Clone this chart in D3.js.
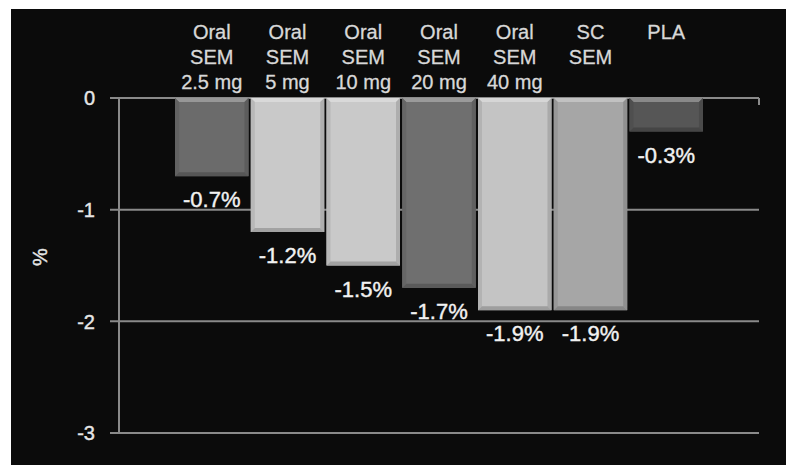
<!DOCTYPE html>
<meta charset="utf-8">
<style>
body { margin: 0; background: #fff; }
svg text { font-family: "Liberation Sans", Arial, sans-serif; }
.tick-label { font-size: 20px; fill: #e6e6e6; stroke: #e6e6e6; stroke-width: 0.4px; }
.cat-label { font-size: 20px; fill: #d8d8d8; stroke: #d8d8d8; stroke-width: 0.3px; }
.val-label { font-size: 22px; fill: #f2f2f2; stroke: #f2f2f2; stroke-width: 0.4px; }
.grid line { stroke: #8a8a8a; stroke-width: 2px; }
</style>
<body>
<svg width="786" height="465"></svg>

<script src="https://cdn.jsdelivr.net/npm/d3@7"></script>
<script>

// data
let categories = ['Oral SEM 2.5 mg', 'Oral SEM 5 mg', 'Oral SEM 10 mg', 'Oral SEM 20 mg',
                  'Oral SEM 40 mg', 'SC SEM', 'PLA'];
let labelLines = [
  ['Oral', 'SEM', '2.5 mg'],
  ['Oral', 'SEM', '5 mg'],
  ['Oral', 'SEM', '10 mg'],
  ['Oral', 'SEM', '20 mg'],
  ['Oral', 'SEM', '40 mg'],
  ['SC', 'SEM'],
  ['PLA']
];
let values = [-0.7, -1.2, -1.5, -1.7, -1.9, -1.9, -0.3];
let valueLabels = ['-0.7%', '-1.2%', '-1.5%', '-1.7%', '-1.9%', '-1.9%', '-0.3%'];
let yTicks = [0, -1, -2, -3];
let yTitle = '%';

let svg = d3.select('svg');

// black panel
svg.append('rect')
  .attr('x', 11).attr('y', 9)
  .attr('width', 775).attr('height', 456)
  .attr('fill', '#0b0b0b');

let x = d3.scaleBand()
  .domain(categories)
  .range([119, 759])
  .paddingInner(0.03)
  .paddingOuter(0.74);

let y = d3.scaleLinear()
  .domain([-3, 0])
  .range([433, 98]);

let fill = d3.scaleOrdinal()
  .domain(categories)
  .range(['#6b6b6b', '#c9c9c9', '#c9c9c9', '#6f6f6f', '#c4c4c4', '#a6a6a6', '#565656']);

// gridlines
let grid = svg.append('g').attr('class', 'grid');
grid.selectAll('line')
  .data(yTicks)
  .join('line')
  .attr('x1', 110).attr('x2', 759)
  .attr('y1', d => y(d)).attr('y2', d => y(d));

// little hook at right end of the zero line
grid.append('line')
  .attr('x1', 759).attr('x2', 759)
  .attr('y1', y(0)).attr('y2', y(0) + 7);

// vertical axis
grid.append('line')
  .attr('x1', 119).attr('x2', 119)
  .attr('y1', y(0)).attr('y2', y(-3));

svg.selectAll('.tick-label')
  .data(yTicks)
  .join('text')
  .attr('class', 'tick-label')
  .attr('x', 95)
  .attr('y', d => y(d))
  .attr('dy', '0.36em')
  .attr('text-anchor', 'end')
  .text(d => d);

svg.append('text')
  .attr('class', 'tick-label')
  .attr('transform', 'translate(40,257) rotate(-90)')
  .attr('text-anchor', 'middle')
  .attr('dy', '0.36em')
  .text(yTitle);

// bars with a simple bevel
let b = 4;
let bars = svg.append('g').selectAll('g')
  .data(categories.map((c, i) => ({ c: c, v: values[i], lab: valueLabels[i], lines: labelLines[i] })))
  .join('g');

bars.each(function(d) {
  let g = d3.select(this);
  let x0 = x(d.c), x1 = x(d.c) + x.bandwidth();
  let y0 = y(0), y1 = y(d.v);
  let base = d3.color(fill(d.c));

  g.append('rect')
    .attr('x', x0).attr('y', y0)
    .attr('width', x1 - x0).attr('height', y1 - y0)
    .attr('fill', base);

  let poly = (pts, col) => g.append('polygon')
    .attr('points', pts.map(p => p.join(',')).join(' '))
    .attr('fill', col);

  poly([[x0, y0], [x1, y0], [x1 - b, y0 + b], [x0 + b, y0 + b]], d3.interpolateRgb(base, '#fff')(0.3));
  poly([[x0, y0], [x0 + b, y0 + b], [x0 + b, y1 - b], [x0, y1]], base.darker(0.25));
  poly([[x1, y0], [x1 - b, y0 + b], [x1 - b, y1 - b], [x1, y1]], base.darker(0.4));
  poly([[x0, y1], [x1, y1], [x1 - b, y1 - b], [x0 + b, y1 - b]], base.darker(0.6));

  // value label
  g.append('text')
    .attr('class', 'val-label')
    .attr('x', (x0 + x1) / 2)
    .attr('y', y1 + 31)
    .attr('text-anchor', 'middle')
    .text(d.lab);

  // category label
  g.append('text')
    .attr('class', 'cat-label')
    .attr('text-anchor', 'middle')
    .selectAll('tspan')
    .data(d.lines)
    .join('tspan')
    .attr('x', (x0 + x1) / 2)
    .attr('y', (l, i) => 39 + i * 25)
    .text(l => l);
});

</script>
</body>
